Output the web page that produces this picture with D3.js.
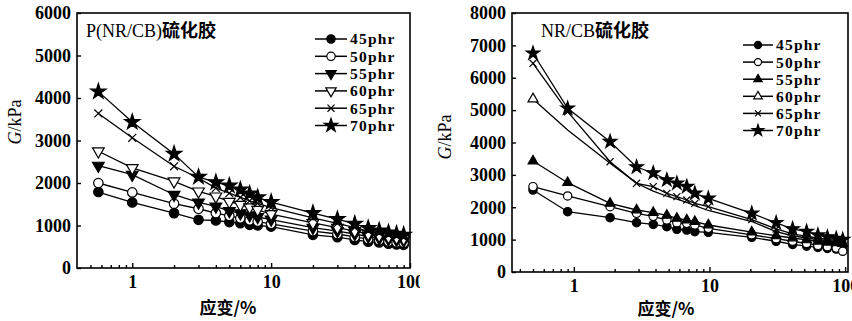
<!DOCTYPE html>
<html>
<head>
<meta charset="utf-8">
<script src="https://cdn.jsdelivr.net/npm/d3@7/dist/d3.min.js"></script>
<style>
  html, body { margin: 0; padding: 0; background: #fff; }
  svg { display: block; }
  text { fill: #000; }
</style>
</head>
<body>
<svg id="chart" width="852" height="321"></svg>
<script>
// ---------------- DATA ----------------
const seriesLabels = ["45phr", "50phr", "55phr", "60phr", "65phr", "70phr"];

// Left panel: P(NR/CB) vulcanizate
const strainLeft = [0.57, 1, 2, 3, 4, 5, 6, 7, 8, 10, 20, 30, 40, 50, 60, 70, 80, 90];
const left45 = [1787, 1543, 1291, 1134, 1118, 1080, 1055, 1016, 1000, 975, 780, 725, 660, 620, 600, 570, 555, 545];
const left50 = [2000, 1779, 1512, 1394, 1291, 1228, 1170, 1120, 1090, 1040, 870, 800, 730, 680, 650, 620, 600, 590];
const left55 = [2409, 2197, 1724, 1543, 1448, 1340, 1290, 1240, 1200, 1140, 950, 870, 800, 740, 700, 680, 660, 640];
const left60 = [2748, 2354, 2039, 1803, 1685, 1560, 1490, 1430, 1370, 1270, 1060, 950, 870, 800, 760, 730, 710, 690];
const left65 = [3637, 3063, 2393, 2118, 1880, 1760, 1660, 1580, 1520, 1420, 1180, 1050, 950, 870, 830, 790, 760, 740];
const left70 = [4150, 3433, 2685, 2142, 2016, 1937, 1842, 1748, 1661, 1550, 1291, 1149, 1039, 937, 881, 834, 803, 780];

// Right panel: NR/CB vulcanizate
const strainRight = [0.5, 0.9, 1.85, 2.9, 3.85, 4.85, 5.75, 6.8, 7.8, 9.8, 20.5, 31, 41, 52, 63, 74, 86, 96];
const right45 = [2533, 1863, 1678, 1524, 1472, 1400, 1318, 1297, 1246, 1225, 1071, 950, 850, 800, 760, 730, 710, 700];
const right50 = [2636, 2348, 2018, 1812, 1720, 1606, 1524, 1503, 1452, 1349, 1150, 1030, 950, 880, 820, 780, 740, 640];
const right55 = [3429, 2759, 2121, 1915, 1832, 1750, 1657, 1606, 1555, 1452, 1230, 1120, 1050, 990, 950, 920, 900, 880];
const right60 = [5344, 4386, 3357, 2740, 2500, 2340, 2250, 2150, 2050, 1900, 1560, 1250, 1120, 1050, 1000, 970, 940, 920];
const right65 = [6446, 4951, 3407, 2740, 2636, 2430, 2327, 2224, 2121, 2018, 1620, 1330, 1180, 1100, 1050, 1010, 980, 960];
const right70 = [6756, 5057, 4026, 3243, 3058, 2842, 2740, 2636, 2430, 2276, 1810, 1520, 1330, 1250, 1140, 1080, 1030, 1000];

const yTicksLeft = [0, 1000, 2000, 3000, 4000, 5000, 6000];
const yTicksRight = [0, 1000, 2000, 3000, 4000, 5000, 6000, 7000, 8000];
const xTickLabels = [1, 10, 100];

const titleLeftLatin = "P(NR/CB)";
const titleRightLatin = "NR/CB";
const titleCJK = "硫化胶";
const xAxisTitle = "应变/%";

// ---------------- SYMBOLS ----------------
const symX = {
  draw(ctx, size) {
    const r = Math.sqrt(size) / 2;
    ctx.moveTo(-r, -r); ctx.lineTo(r, r);
    ctx.moveTo(-r, r); ctx.lineTo(r, -r);
  }
};
function markerSpec(kind) {
  switch (kind) {
    case "circle": return { type: d3.symbolCircle, fill: "#000", rot: 0, k: 1 };
    case "circleOpen": return { type: d3.symbolCircle, fill: "#fff", rot: 0, k: 1 };
    case "triDown": return { type: d3.symbolTriangle, fill: "#000", rot: 180, k: 0.85 };
    case "triDownOpen": return { type: d3.symbolTriangle, fill: "#fff", rot: 180, k: 0.85 };
    case "triUp": return { type: d3.symbolTriangle, fill: "#000", rot: 0, k: 0.75 };
    case "triUpOpen": return { type: d3.symbolTriangle, fill: "#fff", rot: 0, k: 0.8 };
    case "x": return { type: symX, fill: "none", rot: 0, k: 0.9 };
    case "star": return { type: d3.symbolStar, fill: "#000", rot: 0, k: 1.05 };
  }
}

const svg = d3.select("#chart");
svg.append("defs").append("clipPath").attr("id", "clipL")
  .append("rect").attr("x", 0).attr("y", 0).attr("width", 420).attr("height", 321);

const serif = "'Liberation Serif', 'Times New Roman', serif";
const cjk = "'Noto Sans CJK SC', sans-serif";

function drawPanel(cfg) {
  const g = svg.append("g");
  if (cfg.clip) g.attr("clip-path", "url(#clipL)");
  const x = d3.scaleLog().domain(cfg.xDomain).range([cfg.x0, cfg.x1]);
  const y = d3.scaleLinear().domain([0, cfg.yMax]).range([cfg.y0, cfg.y1]);

  // frame
  g.append("rect").attr("x", cfg.x0).attr("y", cfg.y1)
    .attr("width", cfg.x1 - cfg.x0).attr("height", cfg.y0 - cfg.y1)
    .attr("fill", "none").attr("stroke", "#000").attr("stroke-width", 1.6);

  // y axis
  const ya = g.append("g").attr("transform", `translate(${cfg.x0},0)`)
    .call(d3.axisLeft(y).tickValues(cfg.yTicks).tickSize(-4).tickPadding(6).tickFormat(d3.format("d")));
  ya.select(".domain").remove();
  ya.selectAll("line").attr("stroke-width", 1.4);
  ya.selectAll("text").attr("font-family", serif).attr("font-weight", "bold").attr("font-size", 18);

  // x axis major
  const xa = g.append("g").attr("transform", `translate(0,${cfg.y0})`)
    .call(d3.axisBottom(x).tickValues(xTickLabels).tickSize(-5).tickPadding(7).tickFormat(d3.format("d")));
  xa.select(".domain").remove();
  xa.selectAll("line").attr("stroke-width", 1.4);
  xa.selectAll("text").attr("font-family", serif).attr("font-weight", "bold").attr("font-size", 18);

  // x axis minor
  const minors = [];
  for (let dec = 0.1; dec <= 10; dec *= 10) {
    for (let m = 2; m <= 9; m++) {
      const v = +(m * dec).toPrecision(3);
      if (v > cfg.xDomain[0] && v < cfg.xDomain[1]) minors.push(v);
    }
  }
  const xm = g.append("g").attr("transform", `translate(0,${cfg.y0})`)
    .call(d3.axisBottom(x).tickValues(minors).tickSize(-3).tickFormat(""));
  xm.select(".domain").remove();
  xm.selectAll("line").attr("stroke-width", 1.4);

  // series
  const line = d3.line().x(d => x(d[0])).y(d => y(d[1]));
  cfg.series.forEach((s, i) => {
    const pts = cfg.strain.map((v, j) => [v, s[j]]);
    g.append("path").datum(pts).attr("d", line)
      .attr("fill", "none").attr("stroke", "#000").attr("stroke-width", 1.3);
    const ms = markerSpec(cfg.markers[i]);
    const show = cfg.markerOnlyFirst && cfg.markerOnlyFirst[i] ? pts.slice(0, 1) : pts;
    g.selectAll(null).data(show).enter().append("path")
      .attr("d", d3.symbol().type(ms.type).size(cfg.mSize * ms.k))
      .attr("transform", d => `translate(${x(d[0])},${y(d[1])}) rotate(${ms.rot})`)
      .attr("fill", ms.fill).attr("stroke", "#000").attr("stroke-width", 1.2);
  });

  // legend
  seriesLabels.forEach((lab, i) => {
    const ly = cfg.legY + i * cfg.legStep;
    g.append("line").attr("x1", cfg.legX).attr("x2", cfg.legX + cfg.legW)
      .attr("y1", ly).attr("y2", ly).attr("stroke", "#000").attr("stroke-width", 1.5);
    const ms = markerSpec(cfg.markers[i]);
    g.append("path")
      .attr("d", d3.symbol().type(ms.type).size(cfg.legMSize * ms.k))
      .attr("transform", `translate(${cfg.legX + cfg.legW / 2},${ly}) rotate(${ms.rot})`)
      .attr("fill", ms.fill).attr("stroke", "#000").attr("stroke-width", 1.2);
    g.append("text").attr("x", cfg.legX + cfg.legW + 3).attr("y", ly).attr("dy", "0.35em")
      .attr("font-family", serif).attr("font-weight", "bold").attr("font-size", 15.5)
      .attr("letter-spacing", "1.2px").text(lab);
  });

  // title
  const t = g.append("text").attr("x", cfg.titleX).attr("y", cfg.titleY).attr("font-size", 18);
  t.append("tspan").attr("font-family", serif).text(cfg.titleLatin);
  t.append("tspan").attr("font-family", cjk).attr("font-weight", "bold").text(titleCJK);

  // y title
  const yt = g.append("text").attr("transform", `translate(${cfg.yTitleX},${cfg.yTitleY}) rotate(-90)`)
    .attr("text-anchor", "middle").attr("dy", "0.35em").attr("font-size", 18).attr("font-family", serif);
  yt.append("tspan").attr("font-style", "italic").text("G");
  yt.append("tspan").text("/kPa");

  // x title
  g.append("text").attr("x", cfg.xTitleX).attr("y", cfg.xTitleY).attr("dy", "0.35em")
    .attr("text-anchor", "middle").attr("font-family", cjk).attr("font-weight", "bold")
    .attr("font-size", 17).text(xAxisTitle);
}

drawPanel({
  clip: true,
  x0: 77, x1: 410, y0: 268, y1: 13,
  xDomain: [0.4, 100], yMax: 6000, yTicks: yTicksLeft,
  strain: strainLeft,
  series: [left45, left50, left55, left60, left65, left70],
  markers: ["circle", "circleOpen", "triDown", "triDownOpen", "x", "star"],
  mSize: 70, legMSize: 55,
  legX: 315, legW: 32, legY: 39, legStep: 17.3,
  titleX: 86, titleY: 37, titleLatin: titleLeftLatin,
  yTitleX: 15, yTitleY: 122,
  xTitleX: 228, xTitleY: 308
});

drawPanel({
  clip: false,
  x0: 512, x1: 848, y0: 272, y1: 13,
  xDomain: [0.35, 105], yMax: 8000, yTicks: yTicksRight,
  strain: strainRight,
  series: [right45, right50, right55, right60, right65, right70],
  markers: ["circle", "circleOpen", "triUp", "triUpOpen", "x", "star"],
  markerOnlyFirst: [false, false, false, true, false, false],
  mSize: 55, legMSize: 40,
  legX: 743, legW: 30, legY: 45, legStep: 17.1,
  titleX: 541, titleY: 37, titleLatin: titleRightLatin,
  yTitleX: 445, yTitleY: 137,
  xTitleX: 666, xTitleY: 309
});
</script>
</body>
</html>
